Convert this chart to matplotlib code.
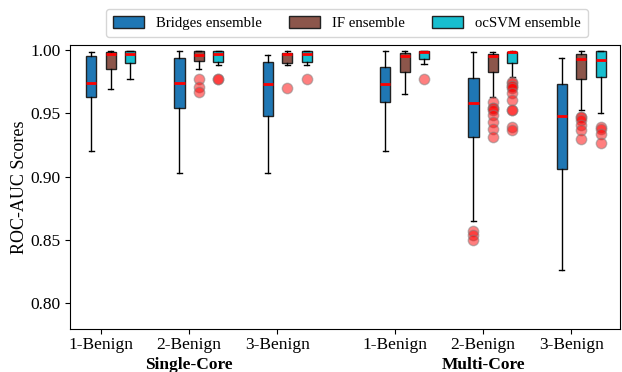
import matplotlib
matplotlib.use("Agg")
import matplotlib.pyplot as plt
from matplotlib.patches import Patch
import numpy as np

plt.rcParams['font.family'] = ['Liberation Serif', 'DejaVu Serif']

groups = ["1-Benign", "2-Benign", "3-Benign", "1-Benign", "2-Benign", "3-Benign"]
group_pos = [0, 1, 2, 3.33, 4.33, 5.33]
models = ["Bridges ensemble", "IF ensemble", "ocSVM ensemble"]
colors = ["#1f77b4", "#8c564b", "#17becf"]

# stats per model, per group: (whislo, q1, med, q3, whishi)
bridges_stats = [
    (0.920, 0.963, 0.974, 0.9955, 0.9987),
    (0.903, 0.954, 0.974, 0.994, 0.999),
    (0.903, 0.948, 0.973, 0.991, 0.9963),
    (0.920, 0.959, 0.9734, 0.987, 0.999),
    (0.865, 0.931, 0.958, 0.9776, 0.9987),
    (0.826, 0.906, 0.948, 0.973, 0.9937),
]
if_stats = [
    (0.969, 0.985, 0.9966, 0.9985, 0.999),
    (0.985, 0.9916, 0.996, 0.999, 0.9995),
    (0.988, 0.990, 0.997, 0.998, 0.999),
    (0.9655, 0.983, 0.995, 0.998, 0.9993),
    (0.9626, 0.983, 0.995, 0.997, 0.9987),
    (0.9526, 0.977, 0.993, 0.9966, 0.999),
]
ocsvm_stats = [
    (0.977, 0.990, 0.997, 0.999, 0.9995),
    (0.988, 0.991, 0.9968, 0.999, 0.9995),
    (0.988, 0.991, 0.9968, 0.999, 0.9995),
    (0.989, 0.993, 0.9987, 0.9995, 0.9997),
    (0.9784, 0.9895, 0.9984, 0.9987, 0.9990),
    (0.950, 0.9784, 0.992, 0.999, 0.9995),
]
bridges_fliers = [[], [], [], [], [0.857, 0.854, 0.850], []]
if_fliers = [[], [0.977, 0.971, 0.967], [0.970], [],
             [0.959, 0.954, 0.954, 0.953, 0.9487, 0.943, 0.9374, 0.931],
             [0.947, 0.947, 0.9447, 0.9408, 0.937, 0.930]]
ocsvm_fliers = [[], [0.977, 0.977], [0.977], [0.977],
                [0.975, 0.974, 0.972, 0.972, 0.970, 0.9658, 0.9605, 0.9526, 0.9526, 0.9394, 0.9368],
                [0.9394, 0.938, 0.934, 0.9268]]

all_stats = [bridges_stats, if_stats, ocsvm_stats]
all_fliers = [bridges_fliers, if_fliers, ocsvm_fliers]
offsets = [-0.11, 0.11, 0.33]

fig = plt.figure(figsize=(6.22, 3.72), dpi=100)
ax = fig.add_axes([70/622, 1-329/372, (620-70)/622, (329-44.7)/372])

for m in range(3):
    stats = []
    for g in range(6):
        lo, q1, med, q3, hi = all_stats[m][g]
        stats.append(dict(whislo=lo, q1=q1, med=med, q3=q3, whishi=hi,
                          fliers=all_fliers[m][g]))
    pos = [p + offsets[m] for p in group_pos]
    ax.bxp(stats, positions=pos, widths=0.115, patch_artist=True, showfliers=True,
           boxprops=dict(facecolor=colors[m], edgecolor="#222222", linewidth=1),
           medianprops=dict(color="red", linewidth=2),
           whiskerprops=dict(color="black", linewidth=1),
           capprops=dict(color="black", linewidth=1),
           flierprops=dict(marker="o", markerfacecolor="red", markeredgecolor="gray",
                           markersize=7.5, alpha=0.5))

ax.set_xticks(group_pos)
ax.set_xticklabels(groups, fontsize=12.5)
ax.tick_params(axis="x", pad=2.5)
ax.set_xlim(-0.35, 5.88)
ax.set_ylim(0.7795, 1.0043)
ax.set_yticks([0.80, 0.85, 0.90, 0.95, 1.00])
ax.set_yticklabels(["0.80", "0.85", "0.90", "0.95", "1.00"], fontsize=12.5)
ax.set_ylabel("ROC-AUC Scores", fontsize=13, labelpad=1.5)

for x, lab in [(group_pos[1], "Single-Core"), (group_pos[4], "Multi-Core")]:
    ax.text(x, -0.098, lab, transform=ax.get_xaxis_transform(), ha="center", va="top",
            fontsize=12.5, fontweight="bold")

handles = [Patch(facecolor=c, edgecolor="#222222", label=l) for c, l in zip(colors, models)]
fig.legend(handles=handles, loc="center", bbox_to_anchor=(347/622, 1-23/372), ncol=3,
           fontsize=10.6, handlelength=2.1, handleheight=0.85, handletextpad=0.8,
           columnspacing=1.85, borderpad=0.5, frameon=True)

fig.savefig("out.png", dpi=100)
